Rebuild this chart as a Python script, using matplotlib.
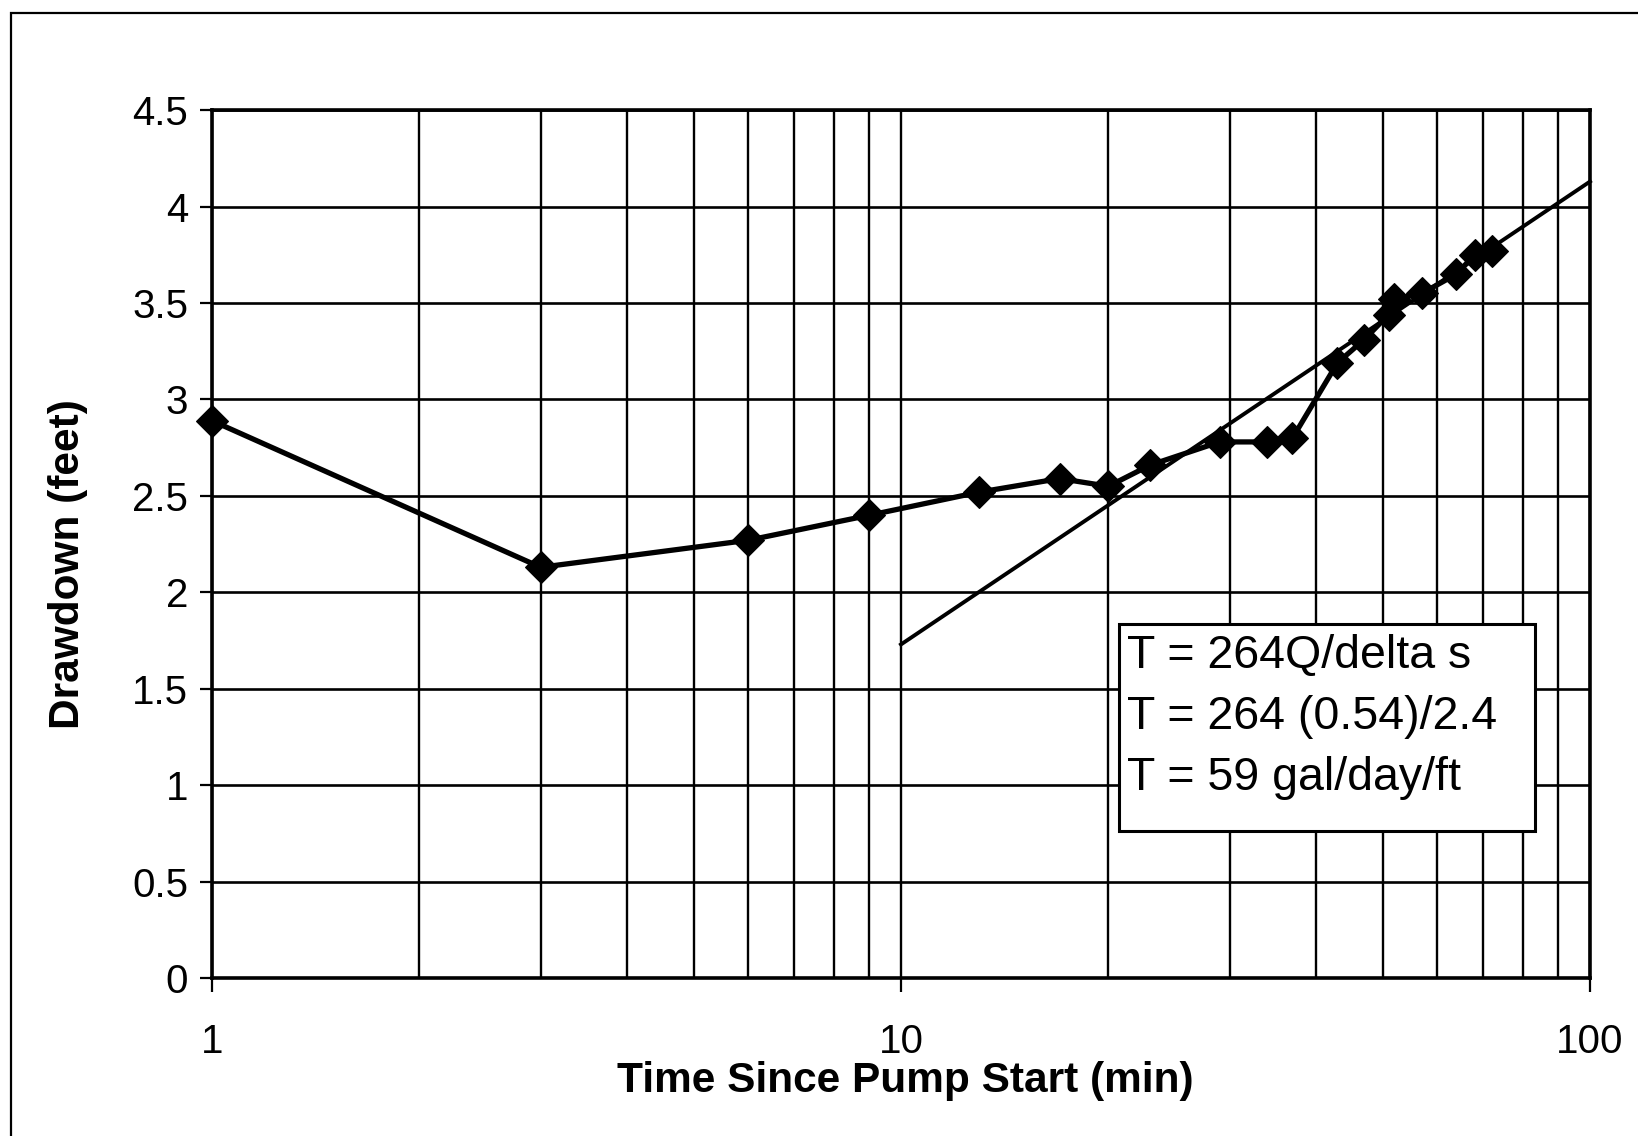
import matplotlib.pyplot as plt
import matplotlib.patches as patches
from matplotlib.ticker import LogLocator, FixedLocator, NullFormatter, FixedFormatter
import numpy as np

plt.rcParams['font.family'] = ['Liberation Sans', 'DejaVu Sans']

# pumping test: drawdown vs. time since pump start
tiempo = [1, 3, 6, 9, 13, 17, 20, 23, 29, 34, 37, 43, 47, 51, 52, 57, 64, 68, 72]
abatimiento = [2.89, 2.13, 2.27, 2.40, 2.52, 2.59, 2.55, 2.66, 2.78, 2.78, 2.80,
               3.19, 3.31, 3.44, 3.52, 3.55, 3.65, 3.75, 3.77]

# straight-line fit over one log cycle (delta s = 2.4 ft)
recta_t = [10, 100]
recta_s = [1.73, 4.13]

texto_caja = ['T = 264Q/delta s', 'T = 264 (0.54)/2.4', 'T = 59 gal/day/ft']

fig = plt.figure(figsize=(16.38, 11.36), dpi=100)
ax = fig.add_axes([0.1294, 0.139, 0.8413, 0.764])

ax.set_xscale('log')
ax.set_xlim(1, 100)
ax.set_ylim(0, 4.5)

# grid: every 0.5 ft, log minor lines on x
ax.yaxis.set_major_locator(FixedLocator(np.arange(0, 4.51, 0.5)))
ax.set_yticklabels(['0', '0.5', '1', '1.5', '2', '2.5', '3', '3.5', '4', '4.5'])
ax.xaxis.set_major_locator(FixedLocator([1, 10, 100]))
ax.xaxis.set_major_formatter(FixedFormatter(['1', '10', '100']))
ax.xaxis.set_minor_locator(LogLocator(base=10, subs=np.arange(2, 10)))
ax.xaxis.set_minor_formatter(NullFormatter())
ax.grid(True, which='both', axis='x', color='black', lw=1.7)
ax.grid(True, which='major', axis='y', color='black', lw=1.9)
ax.set_axisbelow(True)

for s in ax.spines.values():
    s.set_linewidth(2.6)

ax.tick_params(axis='y', which='major', direction='out', length=9, width=1.6,
               labelsize=29, pad=8)
ax.tick_params(axis='x', which='major', direction='out', length=10, width=1.6,
               labelsize=29, pad=22)
ax.tick_params(axis='x', which='minor', length=0)

# measured data and fitted line
ax.plot(recta_t, recta_s, color='black', lw=2.8, zorder=3, clip_on=False)
ax.plot(tiempo, abatimiento, color='black', lw=3.8, marker='D', markersize=16,
        markeredgewidth=0.8, zorder=4, clip_on=False)

ax.set_xlabel('Time Since Pump Start (min)', fontsize=30.5, fontweight='bold', va='center')
ax.set_ylabel('Drawdown (feet)', fontsize=30.5, fontweight='bold', va='center')
ax.xaxis.set_label_coords(0.503, -0.119)
ax.yaxis.set_label_coords(-0.1045, 0.477)

# calculation box
caja = patches.Rectangle((0.658, 0.170), 0.302, 0.238, transform=ax.transAxes,
                         facecolor='white', edgecolor='black', lw=2.2, zorder=5)
ax.add_patch(caja)
for i, linea in enumerate(texto_caja):
    ax.text(0.664, 0.371 - i * 0.0705, linea, transform=ax.transAxes, fontsize=33.5,
            ha='left', va='center', zorder=6)

# chart area frame
fig.patches.append(patches.Rectangle((11 / 1638, -0.05), 1.1, 1 - 13 / 1136 + 0.05,
                                     transform=fig.transFigure, fill=False,
                                     edgecolor='black', lw=1.6))

fig.savefig('out.png', dpi=100)
